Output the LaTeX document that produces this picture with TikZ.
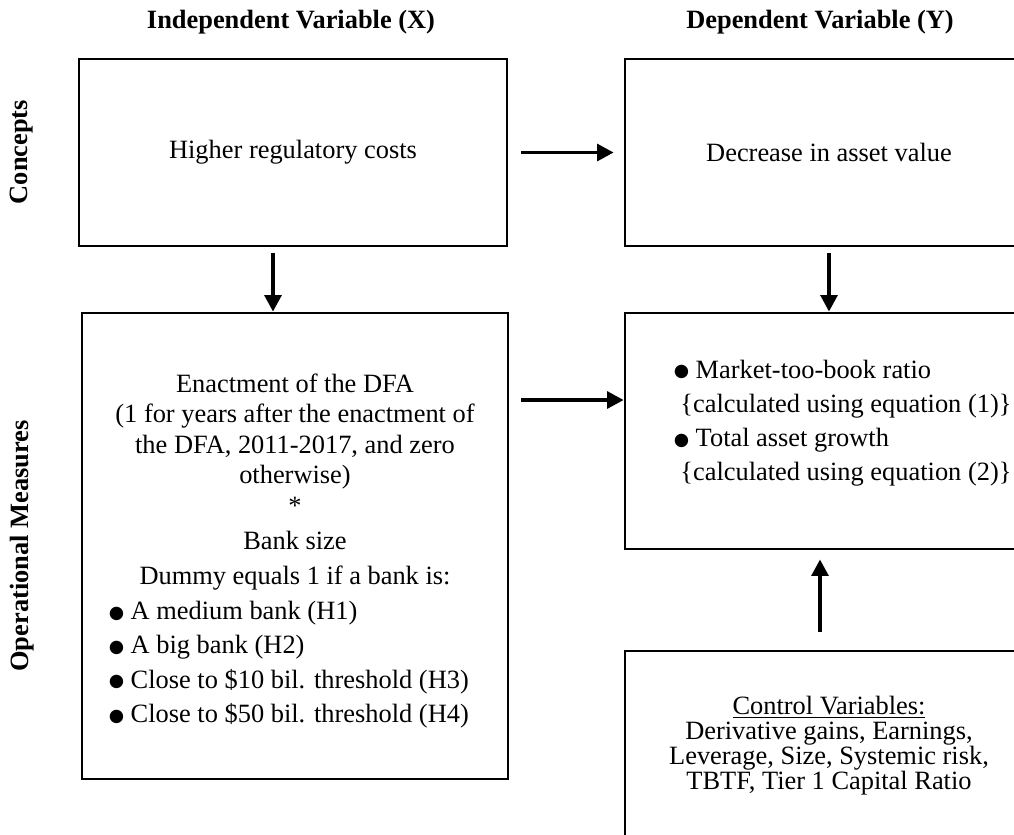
\documentclass[tikz,border=0pt]{standalone}
\usepackage{fontspec}
\setmainfont{Liberation Serif}
\newfontfamily\symfont{DejaVu Sans}
\usetikzlibrary{arrows.meta,positioning,calc}

\newcommand{\dotmark}{\raisebox{0.6pt}{\fontsize{8}{8}\symfont ●}}

\tikzset{
  box/.style={draw, line width=1.2pt, inner sep=0pt},
  arr/.style={-{Triangle[length=7.5pt,width=7.5pt]}, line width=1.8pt},
  head/.style={font=\fontsize{12}{13}\selectfont\bfseries},
}

\begin{document}
\begin{tikzpicture}[x=0.4545pt,y=-0.4545pt, font=\fontsize{12}{13}\selectfont]
	\clip (0,0) rectangle (1014,834);
	
	% column and row headings
	\node[head] (indep) at (291,22) {Independent Variable (X)};
	\node[head] (dep) at (820,22) {Dependent Variable (Y)};
	\node[head, rotate=90] (concepts) at (22,152) {Concepts};
	\node[head, rotate=90] (measures) at (22,546) {Operational Measures};
	
	% boxes
	\node[box, minimum width=194.5pt, minimum height=85pt] (costs) at (293,152.5) {Higher regulatory costs};
	\node[box, minimum width=185.4pt, minimum height=85pt] (decr) at (829,152.5) {Decrease in asset value};
	\node[box, minimum width=193.6pt, minimum height=211.8pt] (enact) at (295,546) {};
	\node[box, minimum width=185.4pt, minimum height=107.3pt] (market) at (829,431) {};
	\node[box, minimum width=185.4pt, minimum height=86pt, align=center,
		font=\fontsize{12}{11.4}\selectfont] (ctrl) at (829,745.5)
		{\underline{Control Variables:}\\Derivative gains, Earnings,\\Leverage, Size, Systemic risk,\\TBTF, Tier 1 Capital Ratio};
	
	% texts in the boxes
	\node[align=center, font=\fontsize{12}{13.9}\selectfont] (dfa) at (295,444)
		{Enactment of the DFA\\(1 for years after the enactment of\\the DFA, 2011-2017, and zero\\otherwise)\\*};
	\node[align=center, font=\fontsize{12}{15.9}\selectfont] (size) at (295,560.5)
		{Bank size\\Dummy equals 1 if a bank is:};
	\node[anchor=west, align=left, font=\fontsize{12}{15.6}\selectfont] (banks) at (101,664.5)
		{\dotmark\ A medium bank (H1)\\\dotmark\ A big bank (H2)\\\dotmark\ Close to \$10 bil. threshold (H3)\\\dotmark\ Close to \$50 bil. threshold (H4)};
	\node[anchor=west, align=left, font=\fontsize{12}{15.5}\selectfont] (ratios) at (666,423)
		{\dotmark\ Market-too-book ratio\\\ \{calculated using equation (1)\}\\\dotmark\ Total asset growth\\\ \{calculated using equation (2)\}};
	
	% arrows
	\draw[arr] ($(costs.east)+(13,0)$) -- ($(decr.west)+(-10,0)$);
	\draw[arr] ($(costs.south)+(-20,6)$) -- ($(enact.north)+(-22,0)$);
	\draw[arr] ($(decr.south)+(0,6)$) -- (market.north);
	\draw[arr] ($(enact.east |- 0,400)+(12,0)$) -- (market.west |- 0,400);
	\draw[arr] ($(ctrl.north)+(-9,-18)$) -- ($(market.south)+(-9,9)$);
\end{tikzpicture}
\end{document}
